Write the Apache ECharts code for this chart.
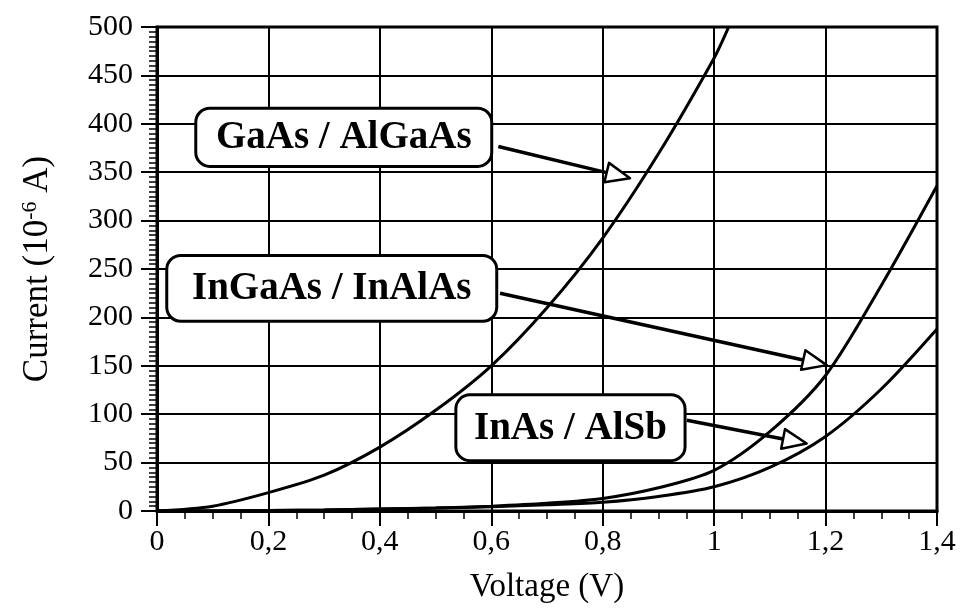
<!DOCTYPE html>
<html><head><meta charset="utf-8">
<script src="https://cdn.jsdelivr.net/npm/echarts@6/dist/echarts.min.js"></script>
<style>html,body{margin:0;padding:0;background:#fff}#c{width:963px;height:611px}</style>
</head><body><div id="c"></div>
<script>
// ---- data ----
const xTicks = [0, 0.2, 0.4, 0.6, 0.8, 1.0, 1.2, 1.4];
const yTicks = [0, 50, 100, 150, 200, 250, 300, 350, 400, 450, 500];
const gaasX = [0, 0.1, 0.2, 0.3, 0.4, 0.5, 0.6, 0.7, 0.8, 0.9, 1.0, 1.026];
const gaasY = [0, 5, 19, 37, 66, 104, 150, 210, 282, 369, 468, 500];
const voltX = [0, 0.1, 0.2, 0.3, 0.4, 0.5, 0.6, 0.7, 0.8, 0.9, 1.0, 1.1, 1.2, 1.3, 1.4];
const ingaasY = [0, 0, 0.5, 1, 2, 3, 5, 8, 13, 24, 42, 82, 140, 233, 336];
const inasY   = [0, 0, 0.5, 1, 2, 3, 4.5, 6.5, 9, 15, 25, 45, 77, 126, 188];
const labels = ['GaAs / AlGaAs', 'InGaAs / InAlAs', 'InAs / AlSb'];

// ---- annotation geometry (data coordinates) ----
const boxLT = [[0.0696, 416], [0.0175, 264], [0.5364, 120]];
const boxRB = [[0.6008, 356], [0.6098, 196], [0.9478, 52]];
const arrowFrom = [[0.6126, 376.5], [0.6157, 224.9], [0.951, 93.8]];
const arrowTo   = [[0.849, 343.8], [1.202, 150.7], [1.166, 69.7]];

const FONT = '"Liberation Serif", "Times New Roman", serif';
const zip = (a, b) => a.map((v, i) => [v, b[i]]);
const fmtX = v => { const r = Math.round(v * 10) / 10; return String(r).replace('.', ','); };

const chart = echarts.init(document.getElementById('c'), null, {renderer: 'canvas'});
const lineStyle = {color: '#000', width: 3};
const option = {
  backgroundColor: '#fff',
  animation: false,
  grid: {left: 157, right: 26, top: 27, bottom: 100, show: true, borderColor: '#000', borderWidth: 3, backgroundColor: 'transparent'},
  xAxis: {
    type: 'value', min: xTicks[0], max: xTicks[xTicks.length - 1], interval: 0.2,
    name: 'Voltage (V)', nameLocation: 'middle', nameGap: 60,
    nameTextStyle: {fontFamily: FONT, fontSize: 33, color: '#000'},
    axisLine: {show: true, lineStyle: {color: '#000', width: 3}},
    axisTick: {show: true, inside: false, length: 15, lineStyle: {color: '#000', width: 2}},
    minorTick: {show: true, splitNumber: 4, length: 8, lineStyle: {color: '#000', width: 1.5}},
    axisLabel: {fontFamily: FONT, fontSize: 30, color: '#000', margin: 16, formatter: fmtX},
    splitLine: {show: true, lineStyle: {color: '#000', width: 2}}
  },
  yAxis: {
    type: 'value', min: yTicks[0], max: yTicks[yTicks.length - 1], interval: 50,
    name: '{a|Current (10}{s|-6}{a| A)}', nameLocation: 'middle', nameGap: 100, nameRotate: 90,
    nameTextStyle: {color: '#000', rich: {
      a: {fontFamily: FONT, fontSize: 35, color: '#000', lineHeight: 38},
      s: {fontFamily: FONT, fontSize: 22, color: '#000', verticalAlign: 'top', lineHeight: 38}
    }},
    axisLine: {show: true, lineStyle: {color: '#000', width: 3}},
    axisTick: {show: true, inside: false, length: 16, lineStyle: {color: '#000', width: 2}},
    minorTick: {show: true, splitNumber: 10, length: 8, lineStyle: {color: '#000', width: 1.5}},
    axisLabel: {fontFamily: FONT, fontSize: 30, color: '#000', margin: 24},
    splitLine: {show: true, lineStyle: {color: '#000', width: 2}}
  },
  series: [
    {name: labels[0], type: 'line', data: zip(gaasX, gaasY), symbol: 'none', smooth: 0.3, lineStyle, clip: true},
    {name: labels[1], type: 'line', data: zip(voltX, ingaasY), symbol: 'none', smooth: 0.3, lineStyle, clip: true},
    {name: labels[2], type: 'line', data: zip(voltX, inasY), symbol: 'none', smooth: 0.3, lineStyle, clip: true}
  ]
};
chart.setOption(option);

function buildGraphics() {
  const g = [];
  const px = p => chart.convertToPixel({gridIndex: 0}, p);
  for (let i = 0; i < labels.length; i++) {
    const a = px(boxLT[i]), b = px(boxRB[i]);
    const s = px(arrowFrom[i]), t = px(arrowTo[i]);
    const dx = t[0] - s[0], dy = t[1] - s[1];
    const len = Math.hypot(dx, dy), ux = dx / len, uy = dy / len;
    const L = 24, W = 10;
    const bx = t[0] - ux * L, by = t[1] - uy * L;
    g.push({type: 'line', z: 100, shape: {x1: s[0], y1: s[1], x2: bx, y2: by}, style: {stroke: '#000', lineWidth: 3.5}});
    g.push({type: 'polygon', z: 101, shape: {points: [[t[0], t[1]], [bx - uy * W, by + ux * W], [bx + uy * W, by - ux * W]]},
      style: {fill: '#fff', stroke: '#000', lineWidth: 2.5, lineJoin: 'round'}});
    g.push({type: 'rect', z: 102, shape: {x: a[0], y: a[1], width: b[0] - a[0], height: b[1] - a[1], r: 14},
      style: {fill: '#fff', stroke: '#000', lineWidth: 3}});
    g.push({type: 'text', z: 103, x: (a[0] + b[0]) / 2, y: (a[1] + b[1]) / 2 + 1,
      style: {text: labels[i], fill: '#000', fontFamily: FONT, fontSize: 39, fontWeight: 'bold', align: 'center', verticalAlign: 'middle'}});
  }
  return g;
}
chart.setOption({graphic: buildGraphics()});
</script>
</body></html>
